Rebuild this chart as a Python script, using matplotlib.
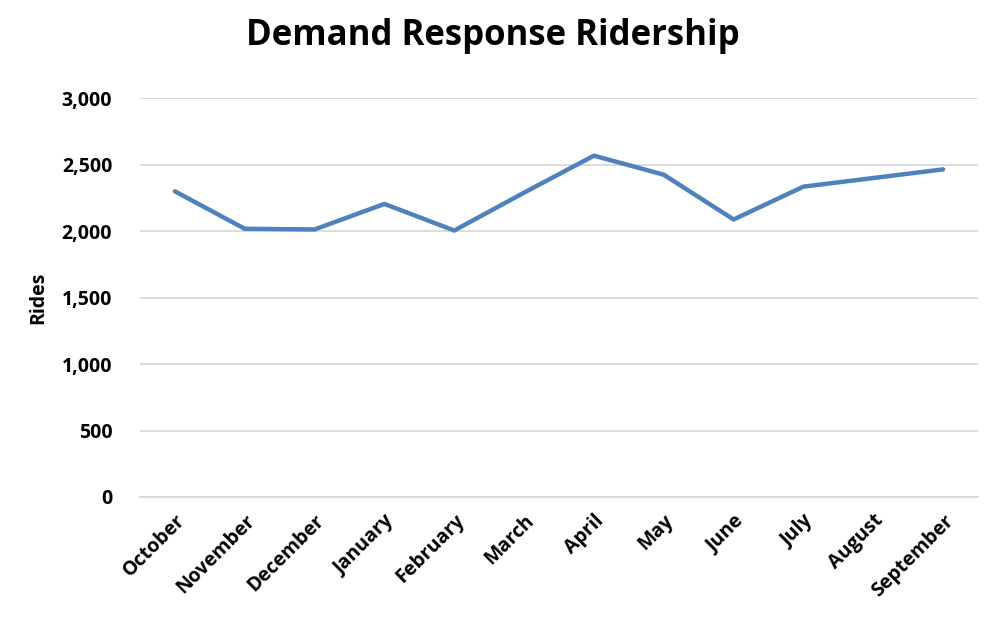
import matplotlib.pyplot as plt
from matplotlib.ticker import FuncFormatter

plt.rcParams['font.family'] = ['Open Sans', 'DejaVu Sans']

months = ['October', 'November', 'December', 'January', 'February', 'March',
          'April', 'May', 'June', 'July', 'August', 'September']
rides = [2300, 2018, 2013, 2205, 2005, 2290, 2568, 2425, 2088, 2335, 2400, 2465]

fig = plt.figure(figsize=(10, 6.22), dpi=100)
ax = fig.add_axes([0.14, 0.201, 0.838, 0.641])

x = range(len(months))
ax.plot(x, rides, color='#4F81BD', linewidth=3.2, solid_capstyle='round')

ax.set_ylim(0, 3000)
ax.set_yticks(range(0, 3001, 500))
ax.yaxis.set_major_formatter(FuncFormatter(lambda v, p: f'{int(v):,}'))
ax.set_xlim(-0.5, len(months) - 0.5)
ax.set_xticks(list(x))
ax.set_xticklabels(months, rotation=45, ha='right', rotation_mode='anchor')

ax.grid(axis='y', color='#D9D9D9', linewidth=1.3)
ax.set_axisbelow(True)
for s in ['top', 'right', 'left']:
    ax.spines[s].set_visible(False)
ax.spines['bottom'].set_color('#D9D9D9')
ax.spines['bottom'].set_linewidth(1.3)
ax.tick_params(axis='y', length=0, labelsize=14, pad=20)
ax.tick_params(axis='x', length=0, labelsize=14, pad=10)
for lbl in ax.get_xticklabels() + ax.get_yticklabels():
    lbl.set_fontweight('bold')

ax.set_ylabel('Rides', fontsize=14, fontweight='bold', labelpad=10)
fig.text(0.4925, 0.927, 'Demand Response Ridership', fontsize=25,
         fontweight='bold', ha='center', va='baseline')

fig.savefig('out.png', dpi=100)
